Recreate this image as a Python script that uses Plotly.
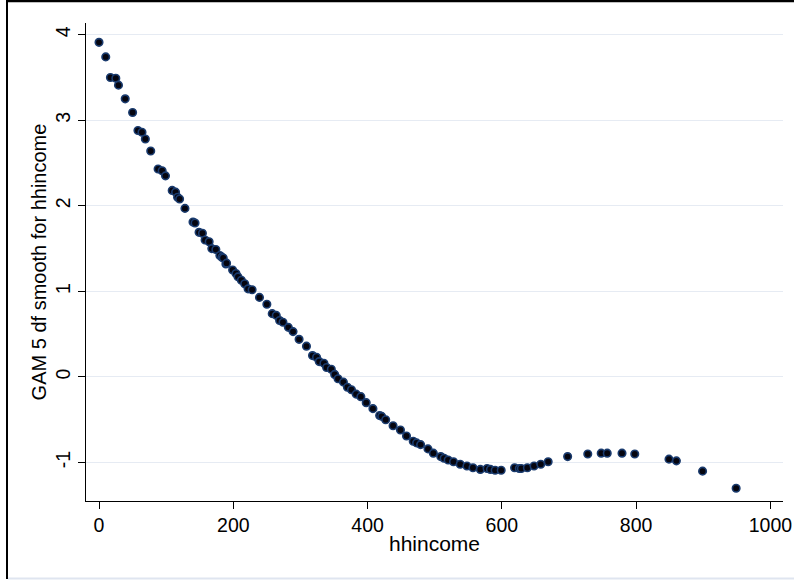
import plotly.graph_objects as go

hhincome = [0, 10, 17, 25, 29, 39, 50, 58, 64, 69, 77, 88, 94, 99, 109, 114, 117, 120, 128,
            140, 143, 149, 154, 158, 164, 168, 174, 180, 183, 185, 189, 190, 199, 204, 207,
            212, 217, 222, 228, 239, 250, 258, 264, 269, 274, 282, 289, 298, 309, 318, 324,
            328, 335, 339, 346, 351, 356, 364, 370, 376, 383, 390, 398, 408, 418, 421, 427,
            438, 449, 458, 468, 473, 479, 490, 498, 509, 514, 520, 528, 538, 548, 557, 568,
            578, 583, 590, 599, 619, 626, 629, 638, 648, 658, 669, 698, 728, 748, 757, 779,
            798, 849, 860, 899, 949]
gam_smooth = [3.91, 3.74, 3.50, 3.49, 3.41, 3.25, 3.09, 2.88, 2.86, 2.78, 2.64, 2.43, 2.41, 2.35,
              2.18, 2.16, 2.10, 2.08, 1.97, 1.81, 1.80, 1.69, 1.68, 1.60, 1.58, 1.50, 1.49, 1.42,
              1.40, 1.39, 1.32, 1.33, 1.25, 1.21, 1.17, 1.13, 1.09, 1.03, 1.02, 0.93, 0.85, 0.74,
              0.72, 0.66, 0.64, 0.58, 0.53, 0.44, 0.36, 0.25, 0.23, 0.18, 0.16, 0.11, 0.09, 0.03,
              -0.02, -0.06, -0.12, -0.15, -0.20, -0.23, -0.30, -0.37, -0.45, -0.46, -0.50, -0.57,
              -0.62, -0.69, -0.75, -0.77, -0.79, -0.84, -0.89, -0.93, -0.95, -0.97, -0.99, -1.02,
              -1.04, -1.06, -1.08, -1.07, -1.08, -1.09, -1.09, -1.06, -1.07, -1.07, -1.06, -1.04,
              -1.02, -0.99, -0.93, -0.90, -0.89, -0.89, -0.89, -0.90, -0.96, -0.98, -1.10, -1.30]

x_ticks = [0, 200, 400, 600, 800, 1000]
y_ticks = [-1, 0, 1, 2, 3, 4]
x_title = "hhincome"
y_title = "GAM 5 df smooth for hhincome"

FONT = "Liberation Sans, Arial, sans-serif"

fig = go.Figure()
fig.add_trace(go.Scatter(
    x=hhincome, y=gam_smooth, mode="markers",
    marker=dict(size=7.5, color="#05050f", line=dict(color="#1a3b6e", width=1.6)),
    showlegend=False, hoverinfo="x+y"))

# plot area: x 86..783 px, y 23..501 px
L, R, T, B = 86, 783, 23, 501
W, H = 794, 581
pw, ph = R - L, B - T

def px_x(p):
    return (p - L) / pw

def px_y(p):
    return (B - p) / ph

# outer frame of the original graph (black top & left edge, light bottom edge)
shapes = [
    dict(type="line", xref="paper", yref="paper", layer="below",
         x0=px_x(6), x1=px_x(794), y0=px_y(1), y1=px_y(1),
         line=dict(color="#000000", width=2.5)),
    dict(type="line", xref="paper", yref="paper", layer="below",
         x0=px_x(7), x1=px_x(7), y0=px_y(0), y1=px_y(579),
         line=dict(color="#000000", width=2)),
    dict(type="line", xref="paper", yref="paper", layer="below",
         x0=px_x(8), x1=px_x(794), y0=px_y(578.5), y1=px_y(578.5),
         line=dict(color="#dfe5f0", width=2)),
]

fig.update_layout(
    width=W, height=H, autosize=False,
    margin=dict(l=L, r=W - R, t=T, b=H - B, pad=0, autoexpand=False),
    paper_bgcolor="white", plot_bgcolor="white",
    font=dict(family=FONT, size=20, color="black"),
    shapes=shapes,
    xaxis=dict(
        range=[-19.4, 1018.8], tickmode="array", tickvals=x_ticks,
        ticktext=[str(v) for v in x_ticks], automargin=False,
        showgrid=False, zeroline=False, showline=True, linecolor="#000000", linewidth=1,
        ticks="outside", ticklen=7, tickcolor="black", tickwidth=1,
        tickfont=dict(family=FONT, size=19.5, color="black"),
        title=dict(text=x_title, font=dict(family=FONT, size=21, color="black"), standoff=0),
    ),
    yaxis=dict(
        range=[-1.449, 4.136], tickmode="array", tickvals=y_ticks,
        ticktext=[str(v) for v in y_ticks], tickangle=-90, automargin=False,
        showgrid=True, gridcolor="#e6ebf3", gridwidth=1.2,
        zeroline=False, showline=True, linecolor="#000000", linewidth=1,
        ticks="outside", ticklen=7, tickcolor="black", tickwidth=1,
        tickfont=dict(family=FONT, size=19.5, color="black"),
        title=dict(text=y_title, font=dict(family=FONT, size=20, color="black"), standoff=0),
    ),
)

fig.write_html("out.html", config={"displayModeBar": False},
               post_script="document.body.style.margin='0';document.body.style.overflow='hidden';")
